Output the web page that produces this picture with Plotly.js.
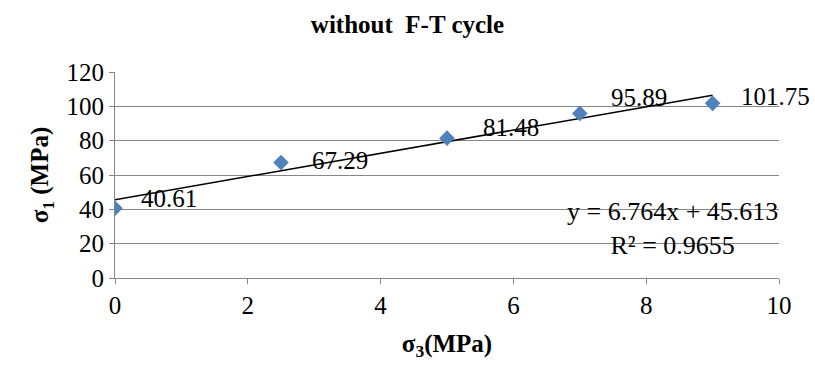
<!DOCTYPE html>
<html>
<head>
<meta charset="utf-8">
<script src="https://cdn.plot.ly/plotly-3.0.1.min.js"></script>
<style>
html,body{margin:0;padding:0;background:#fff;}
#chart{width:815px;height:367px;}
#chart svg text{font-family:"Liberation Serif","Times New Roman",Times,serif !important;}
</style>
</head>
<body>
<div id="chart"></div>
<script>
// Data
const sigma3 = [0, 2.5, 5, 7, 9];
const sigma1 = [40.61, 67.29, 81.48, 95.89, 101.75];
const labels = ['40.61', '67.29', '81.48', '95.89', '101.75'];
const trendX = [0, 9];
const trendY = [45.613, 106.489];
const equationText = 'y = 6.764x + 45.613<br>R² = 0.9655';
const xTicks = [0, 2, 4, 6, 8, 10];
const yTicks = [0, 20, 40, 60, 80, 100, 120];

// Label placement (styling, not data)
const labelXShift = [25, 30, 35, 30, 27];
const labelYShift = [10, 2, 11, 16, 7];

const serif = 'Liberation Serif';

const traces = [
  {
    x: trendX, y: trendY, type: 'scatter', mode: 'lines',
    line: {color: '#000000', width: 1.5}, hoverinfo: 'skip', showlegend: false
  },
  {
    x: sigma3, y: sigma1, type: 'scatter', mode: 'markers',
    marker: {symbol: 'diamond', size: 12, color: '#4F81BD', line: {width: 0}},
    showlegend: false
  }
];

const annotations = sigma3.map((xv, i) => ({
  x: xv, y: sigma1[i], xref: 'x', yref: 'y',
  text: labels[i], showarrow: false,
  xanchor: 'left', yanchor: 'middle', borderpad: 0,
  xshift: labelXShift[i], yshift: labelYShift[i],
  font: {family: serif, size: 25, color: '#000'}
}));

annotations.push({
  x: 8.4, y: 29, xref: 'x', yref: 'y',
  text: equationText, showarrow: false,
  xanchor: 'center', yanchor: 'middle', align: 'center',
  font: {family: serif, size: 26, color: '#000'}
});

const axisCommon = {
  showline: true, linecolor: '#868686', linewidth: 1,
  showgrid: true, gridcolor: '#868686', gridwidth: 1,
  ticks: 'outside', ticklen: 5, tickcolor: '#868686', tickwidth: 1,
  tickfont: {family: serif, size: 25, color: '#000'},
  zeroline: false, fixedrange: true
};

const layout = {
  width: 815, height: 367,
  margin: {l: 115, r: 36, t: 72, b: 89},
  paper_bgcolor: '#fff', plot_bgcolor: '#fff',
  font: {family: serif, color: '#000'},
  title: {
    text: '<b>without  F-T cycle</b>',
    x: 0.5, xref: 'container', y: 0.935, yref: 'container', yanchor: 'middle',
    font: {family: serif, size: 25, color: '#000'}
  },
  xaxis: Object.assign({}, axisCommon, {
    range: [0, 10], tickvals: xTicks,
    showgrid: false,
    title: {text: '<b>σ<sub>3</sub>(MPa)</b>', standoff: 16,
            font: {family: serif, size: 25, color: '#000'}}
  }),
  yaxis: Object.assign({}, axisCommon, {
    range: [0, 120], tickvals: yTicks,
    title: {text: '<b>σ<sub>1</sub> (MPa)</b>', standoff: 10,
            font: {family: serif, size: 25, color: '#000'}}
  }),
  annotations: annotations,
  showlegend: false
};

Plotly.newPlot('chart', traces, layout, {displayModeBar: false, staticPlot: true});
</script>
</body>
</html>
